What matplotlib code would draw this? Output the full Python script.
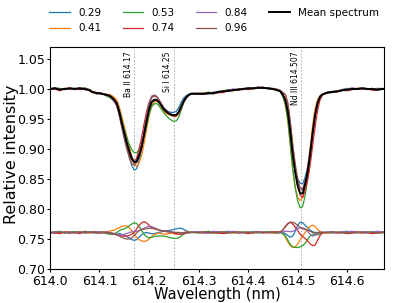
import matplotlib
matplotlib.use("Agg")
import matplotlib.pyplot as plt
import numpy as np

# ---------------- data ----------------
wl = [614.000, 614.010, 614.020, 614.030, 614.040, 614.050, 614.060, 614.070, 614.080,
      614.085, 614.090, 614.095, 614.100, 614.105, 614.110, 614.115, 614.120, 614.125, 614.130,
      614.135, 614.140, 614.145, 614.150, 614.155, 614.160, 614.165, 614.170, 614.175, 614.180,
      614.185, 614.190, 614.195, 614.200, 614.205, 614.210, 614.215, 614.220, 614.225, 614.230,
      614.235, 614.240, 614.245, 614.250, 614.255, 614.260, 614.265, 614.270, 614.275, 614.280,
      614.285, 614.290,
      614.300, 614.310, 614.320, 614.330, 614.340, 614.350, 614.360, 614.370, 614.380, 614.390,
      614.400, 614.410, 614.420, 614.430, 614.440, 614.450, 614.460,
      614.465, 614.470, 614.475, 614.480, 614.485, 614.490, 614.495, 614.500, 614.505, 614.510,
      614.515, 614.520, 614.525, 614.530, 614.535, 614.540, 614.545, 614.550,
      614.560, 614.570, 614.580, 614.590, 614.600, 614.610, 614.620, 614.630, 614.640, 614.650,
      614.660, 614.670, 614.674]

mean_spectrum = [1.000, 1.001, 0.999, 1.000, 1.001, 1.000, 1.001, 1.000, 0.998,
                 0.995, 0.994, 0.993, 0.993, 0.992, 0.991, 0.990, 0.989, 0.986, 0.982,
                 0.976, 0.962, 0.944, 0.927, 0.911, 0.897, 0.885, 0.878, 0.879, 0.889,
                 0.903, 0.924, 0.946, 0.966, 0.978, 0.982, 0.982, 0.978, 0.972, 0.966,
                 0.962, 0.959, 0.957, 0.956, 0.957, 0.962, 0.971, 0.980, 0.986, 0.990,
                 0.992, 0.992,
                 0.992, 0.992, 0.993, 0.993, 0.995, 0.996, 0.997, 0.998, 0.999, 1.000,
                 1.001, 1.001, 1.002, 1.002, 1.001, 1.000, 0.998,
                 0.996, 0.990, 0.981, 0.962, 0.928, 0.890, 0.860, 0.838, 0.826, 0.826,
                 0.841, 0.862, 0.892, 0.927, 0.957, 0.977, 0.987, 0.991,
                 0.994, 0.995, 0.996, 0.998, 0.999, 1.000, 1.000, 1.001, 1.000, 1.000,
                 0.999, 1.000, 1.000]

# deviations of each mu spectrum from the mean spectrum (lower residual curves)
dev_029 = [0.000, -0.001, 0.001, 0.000, -0.001, 0.001, 0.000, 0.001, 0.000,
           0.001, 0.000, -0.001, -0.001, 0.000, 0.001, 0.000, -0.001, -0.002, -0.003,
           -0.003, -0.002, -0.003, -0.005, -0.007, -0.009, -0.012, -0.013, -0.012, -0.008,
           -0.004, -0.001, 0.000, -0.001, -0.002, -0.002, -0.001, 0.000, 0.001, 0.002,
           0.003, 0.003, 0.004, 0.005, 0.006, 0.007, 0.007, 0.005, 0.003, 0.001,
           0.000, 0.000,
           0.001, 0.000, -0.001, 0.000, 0.001, 0.000, -0.001, 0.001, 0.000, 0.000,
           -0.001, 0.001, 0.000, 0.000, 0.001, 0.000, -0.001,
           0.000, 0.000, -0.002, -0.005, -0.008, -0.006, 0.002, 0.012, 0.017, 0.016,
           0.012, 0.008, 0.004, 0.001, 0.000, 0.000, 0.001, 0.000,
           0.000, 0.001, 0.000, -0.001, 0.000, 0.001, 0.000, 0.000, -0.001, 0.001,
           0.000, 0.000, 0.000]

dev_041 = [0.001, 0.000, -0.001, 0.001, 0.000, -0.001, 0.001, 0.000, -0.001,
           0.000, 0.001, 0.000, -0.001, 0.000, 0.001, 0.001, 0.002, 0.003, 0.004,
           0.006, 0.008, 0.010, 0.011, 0.011, 0.008, 0.003, -0.003, -0.008, -0.012,
           -0.014, -0.015, -0.014, -0.011, -0.007, -0.004, -0.002, -0.001, -0.002, -0.003,
           -0.003, -0.002, -0.001, -0.002, -0.003, -0.002, -0.001, 0.000, 0.001, 0.000,
           0.000, 0.001,
           0.000, 0.001, 0.000, -0.001, 0.000, 0.001, 0.000, -0.001, 0.001, 0.000,
           0.001, -0.001, 0.000, 0.001, 0.000, -0.001, -0.001,
           0.000, -0.002, -0.008, -0.016, -0.022, -0.025, -0.024, -0.019, -0.012, -0.006,
           0.000, 0.006, 0.010, 0.012, 0.010, 0.005, 0.002, 0.000,
           -0.001, 0.000, 0.001, 0.000, -0.001, 0.000, 0.001, 0.000, 0.000, -0.001,
           0.000, 0.001, 0.000]

dev_053 = [-0.001, 0.001, 0.002, -0.001, 0.000, 0.001, -0.001, 0.002, 0.001,
           0.001, -0.001, 0.000, 0.001, 0.000, -0.001, -0.002, -0.003, -0.003, -0.002,
           0.000, 0.003, 0.005, 0.006, 0.008, 0.011, 0.014, 0.016, 0.015, 0.010,
           0.003, -0.003, -0.007, -0.009, -0.008, -0.007, -0.006, -0.006, -0.006, -0.006,
           -0.007, -0.008, -0.009, -0.010, -0.010, -0.009, -0.006, -0.003, -0.001, 0.000,
           0.001, 0.000,
           -0.001, 0.000, 0.002, 0.000, -0.001, 0.001, 0.002, 0.000, -0.001, 0.001,
           0.000, 0.001, -0.001, 0.000, 0.001, 0.000, -0.001,
           0.000, -0.002, -0.006, -0.013, -0.020, -0.024, -0.025, -0.025, -0.024, -0.022,
           -0.018, -0.012, -0.006, -0.003, -0.003, -0.004, -0.002, 0.000,
           0.000, -0.001, 0.000, 0.001, 0.002, 0.000, -0.001, 0.001, 0.000, 0.001,
           0.000, -0.001, 0.000]

dev_074 = [0.000, -0.001, -0.002, 0.001, -0.001, 0.000, -0.002, 0.001, 0.000,
           0.000, 0.001, 0.001, 0.000, -0.001, 0.000, 0.000, -0.001, -0.002, -0.003,
           -0.004, -0.005, -0.006, -0.006, -0.006, -0.005, -0.003, 0.000, 0.006, 0.012,
           0.016, 0.018, 0.016, 0.012, 0.008, 0.006, 0.005, 0.004, 0.003, 0.002,
           0.001, 0.001, 0.000, -0.001, -0.002, -0.003, -0.003, -0.002, -0.001, 0.000,
           0.000, 0.000,
           0.000, -0.001, 0.000, 0.001, -0.001, -0.002, 0.000, 0.001, -0.001, 0.000,
           -0.002, 0.000, 0.001, -0.001, 0.000, 0.001, 0.001,
           0.001, 0.004, 0.010, 0.015, 0.017, 0.014, 0.009, 0.003, -0.003, -0.007,
           -0.010, -0.014, -0.019, -0.022, -0.021, -0.013, -0.005, -0.001,
           0.000, 0.000, -0.001, 0.000, -0.002, -0.001, 0.000, -0.001, 0.000, -0.002,
           -0.001, 0.000, 0.000]

dev_084 = [0.001, 0.000, 0.001, -0.001, 0.001, -0.001, 0.001, 0.000, 0.001,
           -0.001, 0.000, 0.001, 0.001, 0.000, 0.000, 0.001, 0.000, -0.001, -0.002,
           -0.003, -0.004, -0.004, -0.003, -0.002, 0.000, 0.001, 0.002, 0.002, 0.003,
           0.005, 0.007, 0.009, 0.010, 0.010, 0.008, 0.006, 0.004, 0.003, 0.003,
           0.002, 0.002, 0.001, 0.000, 0.000, -0.001, -0.001, 0.000, 0.000, -0.001,
           0.000, 0.001,
           0.001, 0.000, -0.001, 0.002, 0.001, 0.000, 0.001, 0.002, 0.000, -0.001,
           0.001, 0.000, 0.000, 0.001, -0.001, 0.000, 0.000,
           0.000, 0.001, 0.002, 0.002, 0.001, 0.002, 0.004, 0.006, 0.008, 0.008,
           0.006, 0.002, -0.003, -0.006, -0.005, -0.002, 0.000, 0.000,
           0.001, 0.000, 0.000, 0.001, 0.001, 0.002, 0.000, 0.001, 0.000, 0.000,
           0.002, 0.001, 0.000]

dev_096 = [-0.001, 0.001, 0.000, 0.000, 0.001, 0.000, 0.001, -0.001, 0.000,
           0.000, 0.000, -0.001, 0.000, 0.001, 0.000, -0.001, -0.001, -0.001, -0.002,
           -0.004, -0.006, -0.008, -0.010, -0.011, -0.011, -0.009, -0.005, -0.001, 0.003,
           0.005, 0.006, 0.006, 0.007, 0.007, 0.007, 0.006, 0.004, 0.003, 0.002,
           0.002, 0.001, 0.001, 0.000, 0.000, 0.000, -0.001, -0.001, 0.000, 0.000,
           0.000, 0.000,
           0.000, 0.001, 0.000, -0.001, 0.000, 0.001, -0.001, 0.000, 0.001, 0.000,
           0.000, -0.001, 0.001, 0.000, 0.000, 0.000, 0.001,
           0.001, 0.004, 0.009, 0.014, 0.017, 0.017, 0.015, 0.012, 0.008, 0.006,
           0.005, 0.004, 0.002, 0.000, -0.001, -0.001, 0.000, 0.000,
           0.000, 0.001, 0.000, 0.000, -0.001, 0.000, 0.001, 0.000, 0.001, 0.000,
           -0.001, 0.000, 0.001]

mu_labels = ["0.29", "0.41", "0.53", "0.74", "0.84", "0.96"]
line_positions = [614.17, 614.25, 614.507]
line_labels = ["Ba II 614.17", "Si I 614.25", "Nd III 614.507"]
residual_offset = 0.761

x_ticks = [614.0, 614.1, 614.2, 614.3, 614.4, 614.5, 614.6]
y_ticks = [0.70, 0.75, 0.80, 0.85, 0.90, 0.95, 1.00, 1.05]

# ---------------- plotting ----------------
devs = [dev_029, dev_041, dev_053, dev_074, dev_084, dev_096]
for d in devs:
    assert len(d) == len(wl)
assert len(mean_spectrum) == len(wl)

wl_a = np.array(wl)
mean_a = np.array(mean_spectrum)
colors = ["#1f77b4", "#ff7f0e", "#2ca02c", "#d62728", "#9467bd", "#8c564b"]

fig = plt.figure(figsize=(3.93, 3.03), dpi=100)
ax = fig.add_axes([0.127, 0.112, 0.850, 0.733])

for x in line_positions:
    ax.axvline(x, color="0.72", ls=(0, (2, 1.5)), lw=0.7, zorder=0)

for lab, d, c in zip(mu_labels, devs, colors):
    ax.plot(wl_a, mean_a + np.array(d), color=c, lw=0.9, label=lab)
ax.plot(wl_a, mean_a, color="black", lw=1.4, label="Mean spectrum")

for d, c in zip(devs, colors):
    ax.plot(wl_a, np.array(d) + residual_offset, color=c, lw=0.9)

for x, t in zip(line_positions, line_labels):
    ax.text(x - 0.003, 1.063, t, rotation=90, ha="right", va="top", fontsize=5.5)

ax.set_xlim(614.0, 614.674)
ax.set_ylim(0.70, 1.07)
ax.set_xticks(x_ticks)
ax.set_yticks(y_ticks)
ax.set_xticklabels([f"{v:.1f}" for v in x_ticks])
ax.set_yticklabels([f"{v:.2f}" for v in y_ticks])
ax.tick_params(labelsize=9, length=2.5)
ax.tick_params(axis="y", pad=0.8)
ax.tick_params(axis="x", pad=1.8)
ax.set_xlabel("Wavelength (nm)", fontsize=10.5, labelpad=-0.5)
ax.set_ylabel("Relative intensity", fontsize=11.5)
ax.yaxis.set_label_coords(-0.094, 0.515)

ax.legend(loc="lower left", bbox_to_anchor=(-0.014, 1.043), ncol=4, frameon=False,
          fontsize=7.5, borderaxespad=0.0, handlelength=2.0)

fig.savefig("out.png", dpi=100)
